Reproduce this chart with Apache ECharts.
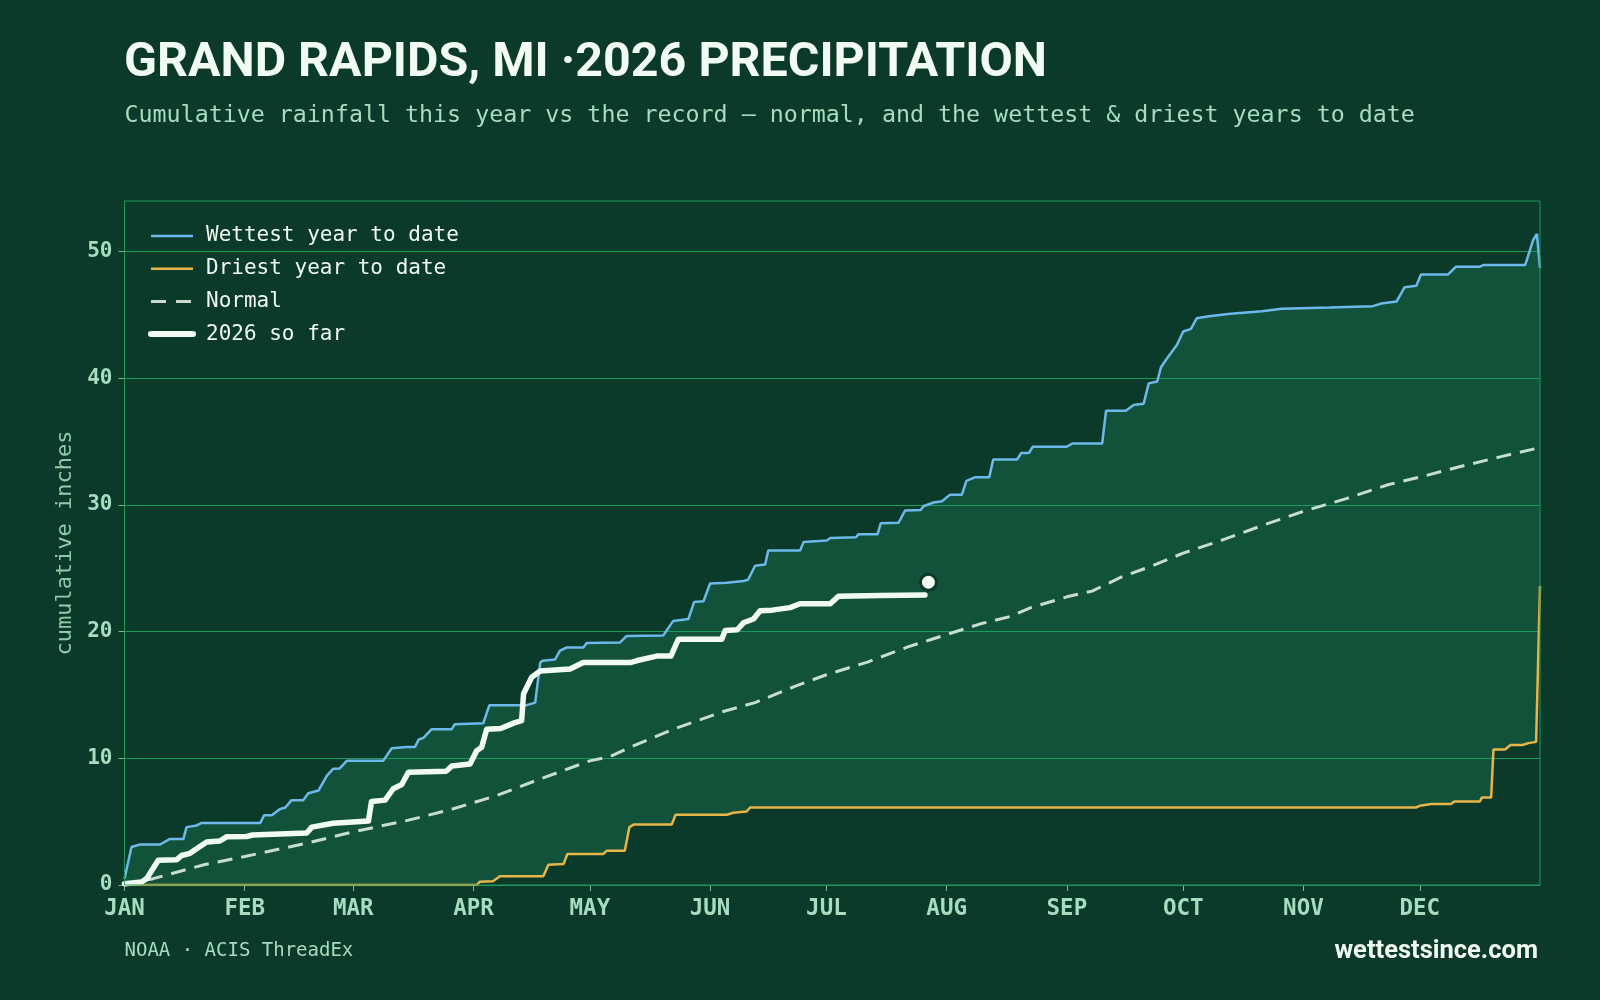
<!DOCTYPE html>
<html>
<head>
<meta charset="utf-8">
<title>Grand Rapids precipitation</title>
<script src="https://cdn.jsdelivr.net/npm/echarts@6/dist/echarts.min.js"></script>
<style>
  html, body { margin: 0; padding: 0; background: #0b3a2a; }
  #chart { width: 1600px; height: 1000px; }
</style>
</head>
<body>
<div id="chart"></div>
<script>
// day of year (0 = Jan 1) -> cumulative inches
const wettest = [[0,0.5],[1.8,3.0],[4,3.2],[9.2,3.2],[11.7,3.64],[15.2,3.64],[16,4.57],[18.6,4.7],[19.9,4.9],[35,4.9],[36,5.5],[38,5.5],[40.1,6.0],[41.4,6.1],[43.1,6.7],[46.1,6.7],[47.4,7.25],[50,7.46],[52.2,8.64],[53.8,9.17],[55.5,9.2],[57.3,9.8],[66.7,9.8],[68.9,10.8],[72.8,10.9],[74.9,10.9],[75.9,11.5],[77,11.6],[79.2,12.3],[84.4,12.3],[85.2,12.7],[92.5,12.76],[94.1,14.2],[103.7,14.2],[105.9,14.4],[107.2,17.56],[107.8,17.7],[111,17.8],[112.3,18.5],[114,18.75],[118.3,18.75],[119.2,19.1],[127.8,19.15],[129.5,19.66],[138.9,19.7],[141.5,20.85],[145.4,21.0],[146.9,22.35],[149.3,22.4],[151,23.8],[155.3,23.87],[159.6,24.0],[160.8,24.1],[162.6,25.2],[165.2,25.3],[166,26.4],[174.2,26.4],[175.1,27.07],[181.1,27.2],[182,27.4],[188.6,27.45],[189.3,27.7],[194.2,27.7],[195,28.55],[199.6,28.6],[201.3,29.57],[205.3,29.6],[206,29.9],[208.6,30.2],[210.8,30.3],[212.8,30.8],[215.9,30.8],[217.1,31.9],[219.4,32.2],[223,32.2],[224,33.6],[230.2,33.6],[231.2,34.1],[233.2,34.1],[234.2,34.6],[242.9,34.6],[244.4,34.85],[252.1,34.85],[253.1,37.45],[258.2,37.45],[260.2,37.9],[262.8,38.0],[264.1,39.6],[266.3,39.75],[267.3,40.9],[268.9,41.6],[271.4,42.65],[273,43.7],[275,43.9],[276.5,44.75],[279.6,44.9],[285.2,45.1],[293.3,45.3],[298.4,45.5],[310.7,45.6],[321.9,45.7],[324,45.9],[328,46.06],[330.1,47.2],[333.1,47.3],[334.3,48.2],[341.3,48.2],[343.3,48.8],[349.4,48.8],[350.5,48.95],[361.2,48.95],[363.2,50.9],[364.2,51.4],[365,48.7]];

const driest = [[0,0],[90.8,0],[91.6,0.25],[95,0.3],[96.8,0.69],[108,0.69],[109.3,1.6],[113.2,1.65],[114.2,2.45],[123.5,2.45],[124.3,2.7],[129,2.7],[130.2,4.57],[131.4,4.78],[141.1,4.78],[142.1,5.55],[155.3,5.55],[157,5.7],[160.4,5.8],[161.3,6.12],[333,6.12],[334,6.25],[337,6.4],[342,6.4],[343,6.6],[349.5,6.6],[350,6.9],[352.4,6.9],[353,10.7],[356,10.7],[357.4,11.05],[360.5,11.05],[362,11.2],[364,11.3],[365,23.6]];

const normal = [[0,0],[7.4,0.5],[20.5,1.6],[31,2.25],[47,3.3],[59,4.2],[73,5.1],[84,5.95],[90,6.5],[96,7.07],[107,8.35],[120,9.8],[125.2,10.14],[130.4,10.87],[141.5,12.3],[154.4,13.7],[162.6,14.4],[173,15.7],[181,16.6],[191.6,17.6],[202,18.8],[208.2,19.4],[220.5,20.6],[228.4,21.2],[233.7,21.9],[243,22.75],[249.5,23.2],[257,24.3],[265,25.2],[273,26.2],[283.7,27.3],[294,28.45],[304,29.5],[315,30.5],[325.8,31.6],[334,32.2],[344,33.0],[354.7,33.8],[364.5,34.5]];

const thisYear = [[0,0.1],[4.4,0.24],[5.7,0.5],[8.7,1.95],[13.5,2.0],[14.7,2.33],[16.9,2.5],[18.6,2.86],[21.2,3.4],[24.6,3.47],[26.3,3.8],[31.5,3.83],[33,3.95],[47,4.1],[48.3,4.57],[53.8,4.88],[62.9,5.05],[63.7,6.6],[67.2,6.7],[69.3,7.6],[71.5,7.93],[73.2,8.9],[83,8.99],[84.4,9.4],[89.1,9.56],[90.8,10.6],[92.1,10.87],[93.4,12.3],[97,12.35],[100.5,12.8],[102.4,12.97],[102.9,15.1],[105,16.4],[107.2,16.9],[114.9,17.05],[118.3,17.56],[130.4,17.56],[132,17.7],[137.2,18.07],[140.9,18.07],[142.8,19.4],[154,19.4],[154.9,20.1],[158,20.15],[159.6,20.7],[162.2,21.0],[163.9,21.65],[167,21.7],[171.6,21.9],[174.2,22.2],[182,22.2],[184.1,22.8],[195,22.85],[206.4,22.9]];

const latest = [[207.3, 23.9]];

const monthStarts = [0, 31, 59, 90, 120, 151, 181, 212, 243, 273, 304, 334];
const monthLabels = ['JAN','FEB','MAR','APR','MAY','JUN','JUL','AUG','SEP','OCT','NOV','DEC'];
const yTicks = [0, 10, 20, 30, 40, 50];

const BG = '#0b3a2a';
const BAND = '#13523a';
const GRID = '#1f9a5f';
const MINT = '#a6dcbf';
const WHITE = '#f2faf4';
const MONO = '"DejaVu Sans Mono", monospace';

const chart = echarts.init(document.getElementById('chart'));

chart.setOption({
  backgroundColor: BG,
  animation: false,
  title: [
    {
      text: 'GRAND RAPIDS, MI \u00b72026 PRECIPITATION',
      left: 124, top: 40, padding: 0,
      textStyle: { color: WHITE, fontFamily: 'Roboto', fontWeight: 'bold', fontSize: 48.4 }
    },
    {
      text: 'Cumulative rainfall this year vs the record \u2014 normal, and the wettest & driest years to date',
      left: 124.5, top: 104, padding: 0,
      textStyle: { color: MINT, fontFamily: MONO, fontWeight: 'normal', fontSize: 23.3 }
    },
    {
      text: 'NOAA \u00b7 ACIS ThreadEx',
      left: 124.5, top: 942, padding: 0,
      textStyle: { color: MINT, fontFamily: MONO, fontWeight: 'normal', fontSize: 19 }
    },
    {
      text: 'wettestsince.com',
      right: 62, top: 939, padding: 0,
      textStyle: { color: WHITE, fontFamily: 'Roboto', fontWeight: 'bold', fontSize: 25.5 }
    }
  ],
  legend: {
    orient: 'vertical',
    left: 148, top: 224, padding: 0,
    itemWidth: 42, itemHeight: 14, itemGap: 8.7,
    itemStyle: { opacity: 0 },
    lineStyle: { width: 2.5 },
    textStyle: { color: '#eef8f1', fontFamily: MONO, fontSize: 21, lineHeight: 24, padding: [0, 0, 0, 8] },
    data: [
      { name: 'Wettest year to date' },
      { name: 'Driest year to date' },
      { name: 'Normal', lineStyle: { width: 3, type: [15, 10] } },
      { name: '2026 so far', lineStyle: { width: 6, cap: 'round' } }
    ]
  },
  grid: {
    left: 124.5, right: 60, top: 201, bottom: 115,
    show: true, borderColor: GRID, borderWidth: 1, backgroundColor: 'transparent', z: 10
  },
  xAxis: {
    type: 'value', min: 0, max: 365,
    axisLine: { show: true, lineStyle: { color: GRID } },
    axisTick: { show: true, customValues: monthStarts, length: 6, lineStyle: { color: '#7fb89a' } },
    axisLabel: {
      customValues: monthStarts,
      formatter: v => monthLabels[monthStarts.indexOf(v)],
      color: MINT, fontFamily: MONO, fontWeight: 'bold', fontSize: 22.5, margin: 13
    },
    splitLine: { show: false }
  },
  yAxis: {
    type: 'value', min: 0, max: 54,
    z: 3,
    name: 'cumulative inches',
    nameLocation: 'middle', nameRotate: 90, nameGap: 37,
    nameTextStyle: { color: '#8fcaa9', fontFamily: MONO, fontSize: 22 },
    axisLine: { show: false },
    axisTick: { show: true, customValues: yTicks, length: 6, lineStyle: { color: '#7fb89a' } },
    axisLabel: { customValues: yTicks, color: MINT, fontFamily: MONO, fontWeight: 'bold', fontSize: 21, margin: 12 },
    splitLine: { show: true, lineStyle: { color: GRID, width: 1.2 } }
  },
  series: [
    {
      name: 'band-top', type: 'line', data: wettest, z: 1, silent: true,
      symbol: 'none', lineStyle: { width: 0 },
      areaStyle: { color: BAND, opacity: 1 }
    },
    {
      name: 'band-bottom', type: 'line', data: driest, z: 2, silent: true,
      symbol: 'none', lineStyle: { width: 0 },
      areaStyle: { color: BG, opacity: 1 }
    },
    {
      name: 'Wettest year to date', type: 'line', data: wettest, z: 5,
      symbol: 'none', itemStyle: { color: '#6cb9ea' },
      lineStyle: { color: '#6cb9ea', width: 2.5 }
    },
    {
      name: 'Driest year to date', type: 'line', data: driest, z: 5,
      symbol: 'none', itemStyle: { color: '#e8b548' },
      lineStyle: { color: '#e8b548', width: 2.5 }
    },
    {
      name: 'Normal', type: 'line', data: normal, z: 6,
      symbol: 'none', itemStyle: { color: '#c6ddcf' },
      lineStyle: { color: '#c6ddcf', width: 3, type: [15, 9] }
    },
    {
      name: '2026 so far', type: 'line', data: thisYear, z: 7,
      symbol: 'none', itemStyle: { color: WHITE },
      lineStyle: { color: WHITE, width: 5.5, cap: 'round', join: 'round' }
    },
    {
      name: 'latest', type: 'scatter', data: latest, z: 8,
      symbolSize: 16,
      itemStyle: { color: WHITE, opacity: 1, borderColor: BG, borderWidth: 3 }
    }
  ]
});
</script>
</body>
</html>
